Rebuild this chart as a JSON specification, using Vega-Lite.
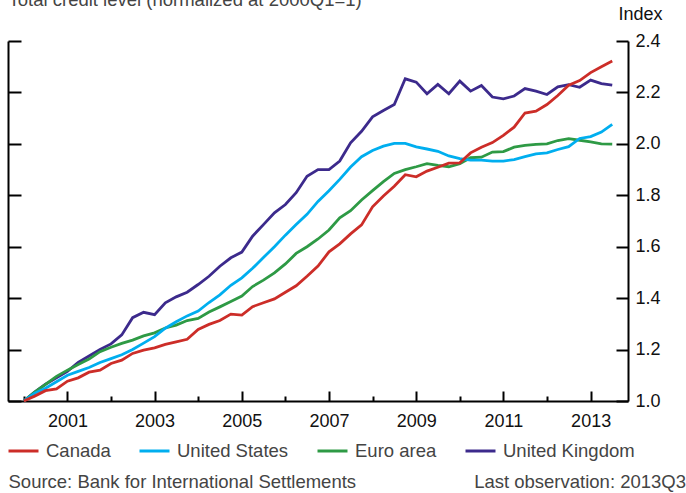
{
  "$schema": "https://vega.github.io/schema/vega-lite/v6.json",
  "autosize": {"type": "none"},
  "width": 620,
  "height": 360,
  "padding": {"left": 8, "top": 41, "right": 58, "bottom": 92},
  "background": "white",
  "config": {
    "view": {"stroke": null},
    "font": "Liberation Sans",
    "axis": {"grid": false, "domainColor": "#000000", "domainWidth": 2, "tickColor": "#000000", "tickWidth": 2, "labelColor": "#111111", "labelFontSize": 18, "labelFont": "Liberation Sans", "titleFont": "Liberation Sans"}
  },
  "data": {
    "values": [
      {"date": "2000-01-01", "United Kingdom": 1.000, "Euro area": 1.000, "United States": 1.000, "Canada": 1.000},
      {"date": "2000-04-01", "United Kingdom": 1.035, "Euro area": 1.035, "United States": 1.030, "Canada": 1.019},
      {"date": "2000-07-01", "United Kingdom": 1.065, "Euro area": 1.065, "United States": 1.050, "Canada": 1.040},
      {"date": "2000-10-01", "United Kingdom": 1.090, "Euro area": 1.096, "United States": 1.075, "Canada": 1.047},
      {"date": "2001-01-01", "United Kingdom": 1.115, "Euro area": 1.120, "United States": 1.100, "Canada": 1.077},
      {"date": "2001-04-01", "United Kingdom": 1.150, "Euro area": 1.142, "United States": 1.115, "Canada": 1.090},
      {"date": "2001-07-01", "United Kingdom": 1.175, "Euro area": 1.163, "United States": 1.130, "Canada": 1.112},
      {"date": "2001-10-01", "United Kingdom": 1.200, "Euro area": 1.192, "United States": 1.150, "Canada": 1.120},
      {"date": "2002-01-01", "United Kingdom": 1.222, "Euro area": 1.209, "United States": 1.165, "Canada": 1.146},
      {"date": "2002-04-01", "United Kingdom": 1.257, "Euro area": 1.224, "United States": 1.180, "Canada": 1.159},
      {"date": "2002-07-01", "United Kingdom": 1.324, "Euro area": 1.237, "United States": 1.200, "Canada": 1.185},
      {"date": "2002-10-01", "United Kingdom": 1.345, "Euro area": 1.253, "United States": 1.225, "Canada": 1.198},
      {"date": "2003-01-01", "United Kingdom": 1.336, "Euro area": 1.265, "United States": 1.250, "Canada": 1.207},
      {"date": "2003-04-01", "United Kingdom": 1.382, "Euro area": 1.284, "United States": 1.283, "Canada": 1.220},
      {"date": "2003-07-01", "United Kingdom": 1.405, "Euro area": 1.295, "United States": 1.308, "Canada": 1.230},
      {"date": "2003-10-01", "United Kingdom": 1.423, "Euro area": 1.313, "United States": 1.331, "Canada": 1.240},
      {"date": "2004-01-01", "United Kingdom": 1.453, "Euro area": 1.321, "United States": 1.350, "Canada": 1.278},
      {"date": "2004-04-01", "United Kingdom": 1.485, "Euro area": 1.346, "United States": 1.383, "Canada": 1.298},
      {"date": "2004-07-01", "United Kingdom": 1.524, "Euro area": 1.366, "United States": 1.413, "Canada": 1.313},
      {"date": "2004-10-01", "United Kingdom": 1.557, "Euro area": 1.387, "United States": 1.450, "Canada": 1.338},
      {"date": "2005-01-01", "United Kingdom": 1.579, "Euro area": 1.408, "United States": 1.479, "Canada": 1.334},
      {"date": "2005-04-01", "United Kingdom": 1.641, "Euro area": 1.445, "United States": 1.516, "Canada": 1.367},
      {"date": "2005-07-01", "United Kingdom": 1.686, "Euro area": 1.470, "United States": 1.558, "Canada": 1.382},
      {"date": "2005-10-01", "United Kingdom": 1.732, "Euro area": 1.498, "United States": 1.600, "Canada": 1.397},
      {"date": "2006-01-01", "United Kingdom": 1.764, "Euro area": 1.533, "United States": 1.645, "Canada": 1.423},
      {"date": "2006-04-01", "United Kingdom": 1.810, "Euro area": 1.574, "United States": 1.686, "Canada": 1.448},
      {"date": "2006-07-01", "United Kingdom": 1.874, "Euro area": 1.600, "United States": 1.726, "Canada": 1.485},
      {"date": "2006-10-01", "United Kingdom": 1.900, "Euro area": 1.630, "United States": 1.776, "Canada": 1.525},
      {"date": "2007-01-01", "United Kingdom": 1.900, "Euro area": 1.665, "United States": 1.818, "Canada": 1.580},
      {"date": "2007-04-01", "United Kingdom": 1.933, "Euro area": 1.712, "United States": 1.862, "Canada": 1.611},
      {"date": "2007-07-01", "United Kingdom": 2.004, "Euro area": 1.740, "United States": 1.910, "Canada": 1.650},
      {"date": "2007-10-01", "United Kingdom": 2.049, "Euro area": 1.782, "United States": 1.950, "Canada": 1.685},
      {"date": "2008-01-01", "United Kingdom": 2.105, "Euro area": 1.818, "United States": 1.974, "Canada": 1.755},
      {"date": "2008-04-01", "United Kingdom": 2.130, "Euro area": 1.853, "United States": 1.991, "Canada": 1.797},
      {"date": "2008-07-01", "United Kingdom": 2.153, "Euro area": 1.885, "United States": 2.002, "Canada": 1.835},
      {"date": "2008-10-01", "United Kingdom": 2.253, "Euro area": 1.900, "United States": 2.002, "Canada": 1.880},
      {"date": "2009-01-01", "United Kingdom": 2.240, "Euro area": 1.911, "United States": 1.988, "Canada": 1.872},
      {"date": "2009-04-01", "United Kingdom": 2.195, "Euro area": 1.923, "United States": 1.980, "Canada": 1.894},
      {"date": "2009-07-01", "United Kingdom": 2.231, "Euro area": 1.916, "United States": 1.971, "Canada": 1.909},
      {"date": "2009-10-01", "United Kingdom": 2.195, "Euro area": 1.911, "United States": 1.953, "Canada": 1.925},
      {"date": "2010-01-01", "United Kingdom": 2.244, "Euro area": 1.923, "United States": 1.943, "Canada": 1.926},
      {"date": "2010-04-01", "United Kingdom": 2.205, "Euro area": 1.946, "United States": 1.937, "Canada": 1.965},
      {"date": "2010-07-01", "United Kingdom": 2.227, "Euro area": 1.948, "United States": 1.937, "Canada": 1.987},
      {"date": "2010-10-01", "United Kingdom": 2.182, "Euro area": 1.968, "United States": 1.933, "Canada": 2.005},
      {"date": "2011-01-01", "United Kingdom": 2.175, "Euro area": 1.970, "United States": 1.933, "Canada": 2.033},
      {"date": "2011-04-01", "United Kingdom": 2.186, "Euro area": 1.987, "United States": 1.939, "Canada": 2.065},
      {"date": "2011-07-01", "United Kingdom": 2.215, "Euro area": 1.994, "United States": 1.950, "Canada": 2.120},
      {"date": "2011-10-01", "United Kingdom": 2.205, "Euro area": 1.998, "United States": 1.961, "Canada": 2.127},
      {"date": "2012-01-01", "United Kingdom": 2.192, "Euro area": 2.000, "United States": 1.965, "Canada": 2.153},
      {"date": "2012-04-01", "United Kingdom": 2.222, "Euro area": 2.013, "United States": 1.978, "Canada": 2.188},
      {"date": "2012-07-01", "United Kingdom": 2.230, "Euro area": 2.020, "United States": 1.989, "Canada": 2.228},
      {"date": "2012-10-01", "United Kingdom": 2.220, "Euro area": 2.014, "United States": 2.021, "Canada": 2.246},
      {"date": "2013-01-01", "United Kingdom": 2.248, "Euro area": 2.008, "United States": 2.028, "Canada": 2.277},
      {"date": "2013-04-01", "United Kingdom": 2.234, "Euro area": 2.000, "United States": 2.046, "Canada": 2.300},
      {"date": "2013-07-01", "United Kingdom": 2.228, "Euro area": 1.999, "United States": 2.076, "Canada": 2.322}
    ]
  },
  "layer": [
    {
      "transform": [{"fold": ["United Kingdom", "Euro area", "United States", "Canada"], "as": ["series", "value"]}],
      "mark": {"type": "line", "strokeWidth": 2.8, "strokeJoin": "miter", "clip": false},
      "encoding": {
        "x": {
          "field": "date",
          "type": "temporal",
          "scale": {"type": "utc", "domain": [{"year": 1999, "month": 8, "date": 22, "utc": true}, {"year": 2013, "month": 11, "date": 10, "utc": true}]},
          "axis": {
            "orient": "bottom",
            "title": "Last observation: 2013Q3",
            "titleX": 677.5,
            "titleY": 80.7,
            "titleAlign": "right",
            "titleBaseline": "middle",
            "titleAnchor": null,
            "titleFontSize": 18.5,
            "titleFontWeight": "normal",
            "titleColor": "#444444",
            "values": [
              {"year": 2000, "utc": true}, {"year": 2001, "utc": true}, {"year": 2002, "utc": true}, {"year": 2003, "utc": true},
              {"year": 2004, "utc": true}, {"year": 2005, "utc": true}, {"year": 2006, "utc": true}, {"year": 2007, "utc": true},
              {"year": 2008, "utc": true}, {"year": 2009, "utc": true}, {"year": 2010, "utc": true}, {"year": 2011, "utc": true},
              {"year": 2012, "utc": true}, {"year": 2013, "utc": true}
            ],
            "tickSize": {"condition": {"test": "utcyear(datum.value) % 2 == 1", "value": -10}, "value": -5},
            "labelExpr": "utcyear(datum.value) % 2 == 1 ? utcFormat(datum.value, '%Y') : ''",
            "labelFlush": false,
            "labelOverlap": false,
            "labelAlign": "center",
            "labelBaseline": "top",
            "labelPadding": 21
          }
        },
        "y": {
          "field": "value",
          "type": "quantitative",
          "scale": {"domain": [1.0, 2.4], "nice": false, "zero": false},
          "axis": {
            "orient": "right",
            "title": "Index",
            "titleAngle": 0,
            "titleX": 12,
            "titleY": -26.5,
            "titleAlign": "center",
            "titleBaseline": "middle",
            "titleFontSize": 18,
            "titleFontWeight": "normal",
            "titleColor": "#111111",
            "values": [1.0, 1.2, 1.4, 1.6, 1.8, 2.0, 2.2, 2.4],
            "format": ".1f",
            "tickSize": -12,
            "labelPadding": 19,
            "labelAlign": "left",
            "labelBaseline": "middle",
            "labelFlush": false
          }
        },
        "color": {
          "field": "series",
          "type": "nominal",
          "scale": {"domain": ["Canada", "United States", "Euro area", "United Kingdom"], "range": ["#cc2d28", "#00aeef", "#2e9a45", "#3c2a8c"]},
          "legend": {
            "orient": "none",
            "legendX": -1,
            "legendY": 393.5,
            "direction": "horizontal",
            "columns": 4,
            "title": null,
            "padding": 0,
            "symbolType": "stroke",
            "symbolSize": 900,
            "symbolStrokeWidth": 3,
            "labelFontSize": 18.5,
            "labelColor": "#444444",
            "labelFont": "Liberation Sans",
            "labelOffset": 6,
            "labelLimit": 300,
            "columnPadding": 22
          }
        }
      }
    },
    {
      "data": {"values": [{"v": 1.0, "d": "2000-01-01"}]},
      "mark": {"type": "rule", "opacity": 0},
      "encoding": {
        "x": {
          "field": "d",
          "type": "temporal",
          "axis": {
            "orient": "top",
            "domain": false,
            "ticks": false,
            "labels": false,
            "title": "Total credit level (normalized at 2000Q1=1)",
            "titleX": 0,
            "titleY": -35.5,
            "titleAlign": "left",
            "titleBaseline": "alphabetic",
            "titleAnchor": null,
            "titleFontSize": 18.5,
            "titleFontWeight": "normal",
            "titleColor": "#444444"
          }
        },
        "y": {
          "field": "v",
          "type": "quantitative",
          "axis": {
            "orient": "left",
            "values": [1.0, 1.2, 1.4, 1.6, 1.8, 2.0, 2.2, 2.4],
            "labels": false,
            "tickSize": -13,
            "title": "Source: Bank for International Settlements",
            "titleAngle": 0,
            "titleX": 0,
            "titleY": 440.7,
            "titleAlign": "left",
            "titleBaseline": "middle",
            "titleFontSize": 18.5,
            "titleFontWeight": "normal",
            "titleColor": "#444444"
          }
        }
      }
    }
  ],
  "resolve": {"axis": {"y": "independent", "x": "independent"}}
}
